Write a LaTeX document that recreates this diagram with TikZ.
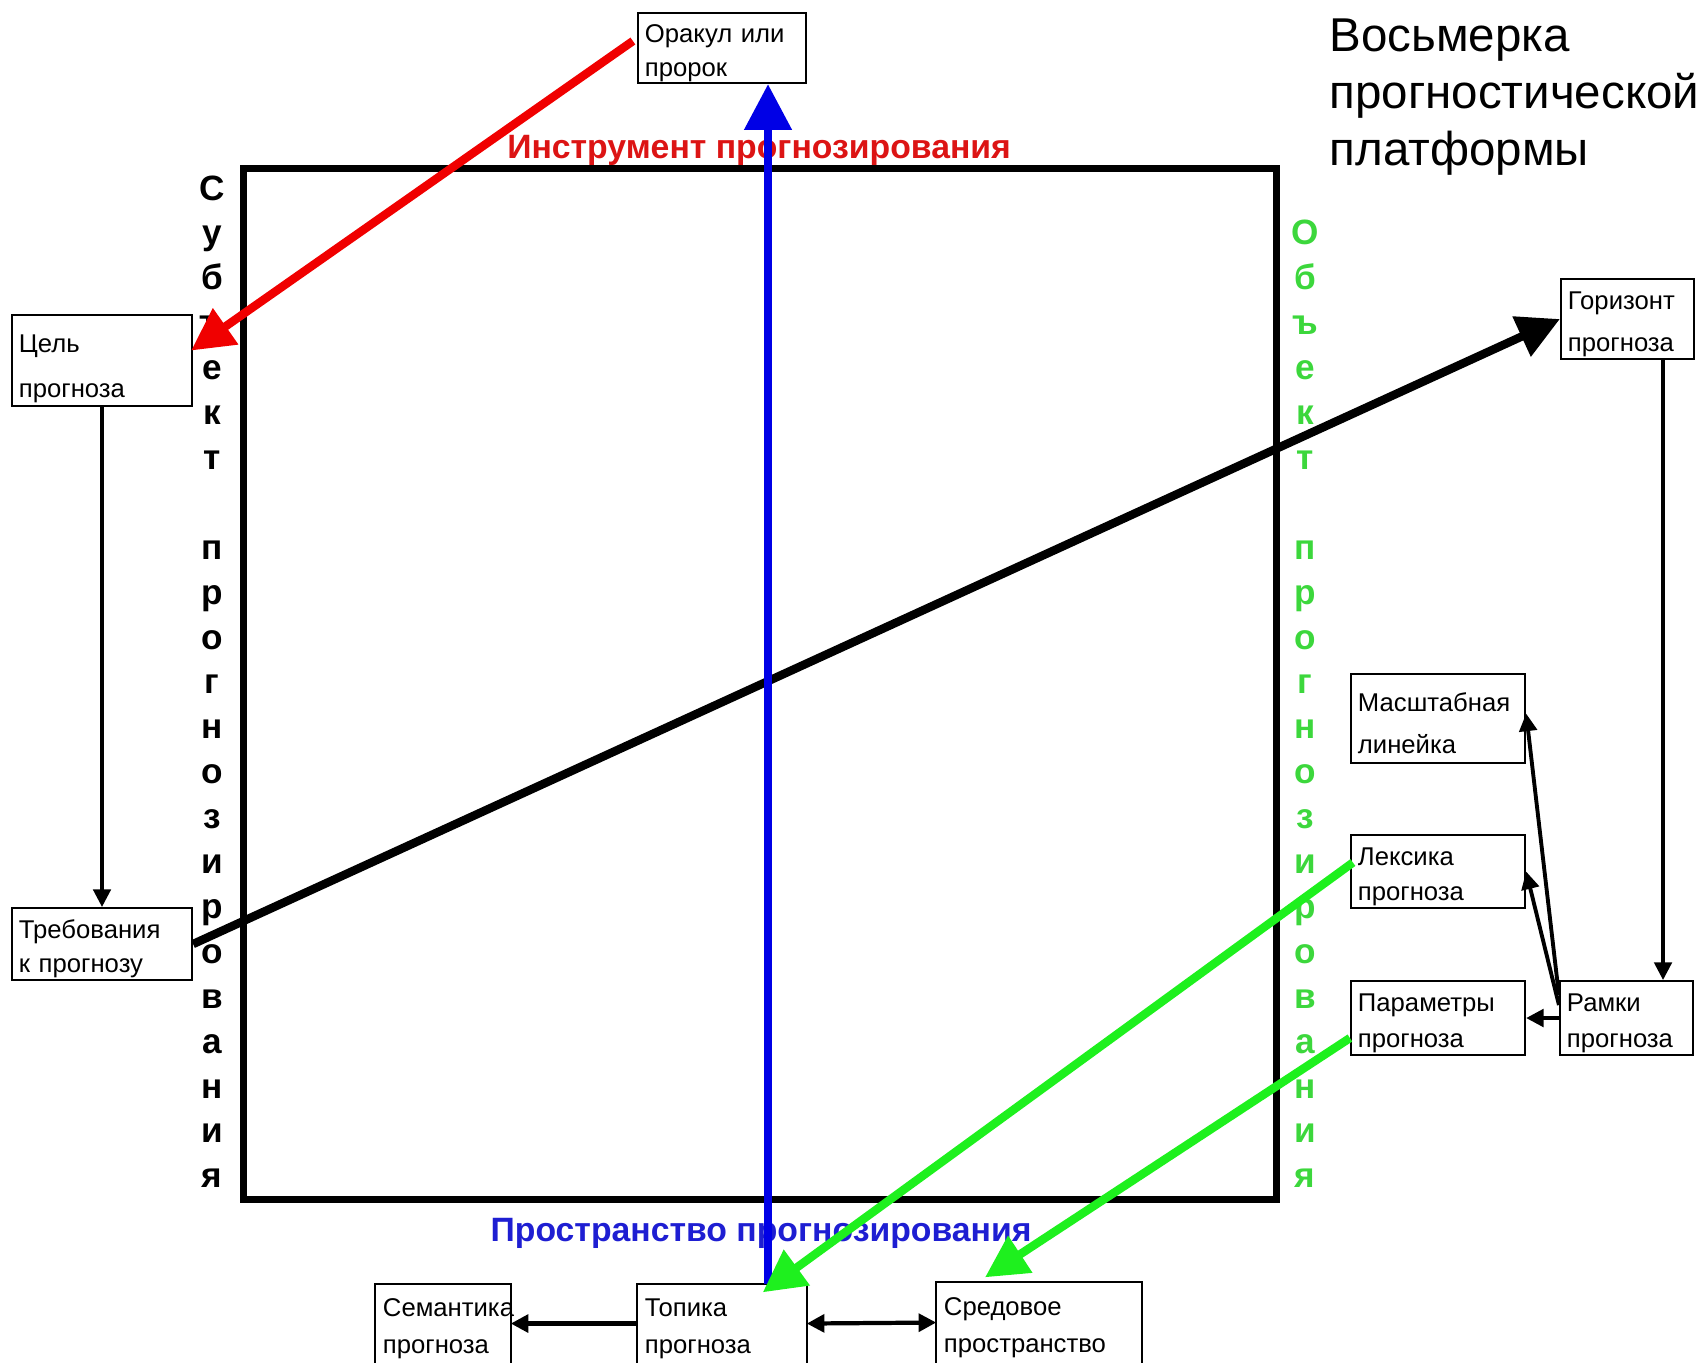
\documentclass[tikz,border=0pt]{standalone}
\usepackage{fontspec}
\setmainfont{Liberation Sans}
\usetikzlibrary{arrows.meta,calc}
\newcommand\bxf[1]{\fontsize{7.3pt}{#1}\selectfont}
\newcommand\tp[1]{\rule{0pt}{#1}}
\definecolor{rd}{RGB}{240,0,0}
\definecolor{bl}{RGB}{0,0,230}
\definecolor{grA}{RGB}{30,240,30}
\definecolor{grT}{RGB}{60,215,60}
\definecolor{rdT}{RGB}{220,20,20}
\definecolor{blT}{RGB}{30,30,210}
\begin{document}
\begin{tikzpicture}[x=0.01cm,y=-0.01cm,
 box/.style={draw, line width=0.6pt, inner xsep=0.07cm, inner ysep=0pt, align=left},
 obox/.style={inner xsep=0.07cm, inner ysep=0pt, align=left},
 vl/.style={font=\fontsize{10pt}{12pt}\selectfont\bfseries, anchor=base, inner sep=0},
 lbl/.style={font=\fontsize{9.6pt}{11pt}\selectfont\bfseries, inner sep=0},
 big/.style={-{Triangle[length=12pt,width=12pt]}, line width=2.4pt},
 small/.style={-{Triangle[length=5pt,width=5pt]}, line width=0.9pt},
 open/.style={line width=0.6pt}
]
\useasboundingbox (0,0) rectangle (1701,1362);
\clip (0,0) rectangle (1701,1362);

% frame
\node[draw, line width=2pt, minimum width=10.325cm, minimum height=10.305cm, inner sep=0] (sq) at (759.75,683.75) {};

% boxes
\node[box, minimum width=1.68cm, minimum height=0.70cm, text width=1.54cm, font=\bxf{9.7pt}] (orakul) at (722,48) {\tp{8pt}Оракул или\\пророк};
\node[box, minimum width=1.80cm, minimum height=0.91cm, text width=1.66cm, font=\bxf{12.8pt}] (cel) at (102,360.5) {\tp{10pt}Цель\\прогноза};
\node[box, minimum width=1.80cm, minimum height=0.72cm, text width=1.66cm, font=\bxf{9.7pt}] (treb) at (102,944) {\tp{8pt}Требования\\к прогнозу};
\node[box, minimum width=1.33cm, minimum height=0.80cm, text width=1.19cm, font=\bxf{12pt}] (gor) at (1627.5,319) {\tp{8pt}Горизонт\\прогноза};
\node[box, minimum width=1.74cm, minimum height=0.89cm, text width=1.60cm, font=\bxf{12.2pt}] (masht) at (1438,718.5) {\tp{8pt}Масштабная\\линейка};
\node[box, minimum width=1.74cm, minimum height=0.73cm, text width=1.60cm, font=\bxf{10.2pt}] (leks) at (1438,871.5) {\tp{8pt}Лексика\\прогноза};
\node[box, minimum width=1.74cm, minimum height=0.74cm, text width=1.60cm, font=\bxf{10pt}] (param) at (1438,1018) {\tp{8pt}Параметры\\прогноза};
\node[box, minimum width=1.33cm, minimum height=0.74cm, text width=1.19cm, font=\bxf{10pt}] (ramki) at (1626.5,1018) {\tp{8pt}Рамки\\прогноза};
\node[obox, minimum width=1.34cm, minimum height=0.77cm, text width=1.20cm, font=\bxf{10.5pt}] (sem) at (443,1323.5) {\tp{8pt}Семантика\\прогноза};
\node[obox, minimum width=1.68cm, minimum height=0.77cm, text width=1.54cm, font=\bxf{10.5pt}] (topika) at (722,1323.5) {\tp{8pt}Топика\\прогноза};
\node[obox, minimum width=2.04cm, minimum height=0.79cm, text width=1.90cm, font=\bxf{10.5pt}] (sred) at (1039,1322.5) {\tp{8pt}Средовое\\пространство};
\foreach \b in {sem,topika,sred}
  \draw[open] ([yshift=-3mm]\b.south west) |- (\b.north east) -- ([yshift=-3mm]\b.south east);

% vertical labels
\foreach \i/\c in {0/С,1/у,2/б,3/ъ,4/е,5/к,6/т,8/п,9/р,10/о,11/г,12/н,13/о,14/з,15/и,16/р,17/о,18/в,19/а,20/н,21/и,22/я}
  \node[vl] (s\i) at (212,{200+44.9*\i}) {\c};
\foreach \i/\c in {1/О,2/б,3/ъ,4/е,5/к,6/т,8/п,9/р,10/о,11/г,12/н,13/о,14/з,15/и,16/р,17/о,18/в,19/а,20/н,21/и,22/я}
  \node[vl, text=grT] (o\i) at (1305,{200+44.9*\i}) {\c};

\node[lbl, text=rdT] (instr) at (759,150) {Инструмент прогнозирования};
\node[lbl, text=blT] (prostr) at (761,1233) {Пространство прогнозирования};

\node[anchor=north west, inner sep=0, align=left, font=\fontsize{13.5pt}{16.2pt}\selectfont] (title) at (1329,18) {Восьмерка\\прогностической\\платформы};

% connectors
\coordinate (bx) at (768,0);
\coordinate (rx) at (1663,0);
\draw[big, black] (treb.east) -- (gor.west);
\draw[-{Triangle[length=13pt,width=13pt]}, line width=2.4pt, bl] (topika.north -| bx) -- (orakul.south -| bx);
\draw[big, rd] ($(orakul.west)+(-4,-7)$) -- ($(cel.east)+(-2,-10)$);
\draw[big, grA] ($(leks.west)+(3,-9)$) -- ($(topika.north east)+(-44,8)$);
\draw[big, grA] ($(param.west)+(0,20)$) -- ($(sred.north)+(-54,-5)$);

\draw[small] (cel.south) -- (treb.north);
\draw[small] (gor.south -| rx) -- (ramki.north -| rx);
\draw[small, line width=1.1pt] ($(ramki.west)+(0,-23)$) -- ($(masht.east)+(0,-5)$);
\draw[small, line width=1.1pt] ($(ramki.west)+(0,-13)$) -- (leks.east);
\draw[small, line width=1.1pt] (ramki.west) -- (param.east);
\draw[small, line width=1.2pt] (topika.west) -- (sem.east);
\draw[{Triangle[length=5pt,width=5pt]}-{Triangle[length=5pt,width=5pt]}, line width=1.2pt] (topika.east) -- (sred.west);
\end{tikzpicture}
\end{document}
